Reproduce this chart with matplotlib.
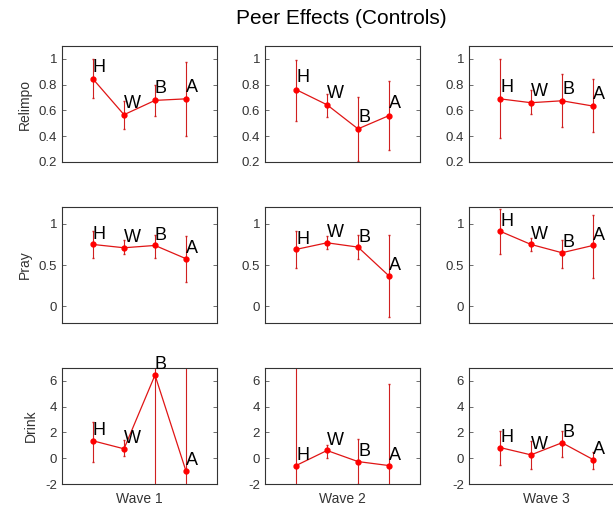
import numpy as np
import matplotlib
matplotlib.use('Agg')
import matplotlib.pyplot as plt

plt.rcParams['font.family'] = ['Liberation Sans', 'DejaVu Sans']

labels = ['H', 'W', 'B', 'A']
waves = ['Wave 1', 'Wave 2', 'Wave 3']
outcomes = ['Relimpo', 'Pray', 'Drink']

# point estimates [outcome][wave][H, W, B, A]
relimpo_mean = [[0.844, 0.567, 0.678, 0.690],
                [0.762, 0.644, 0.457, 0.560],
                [0.690, 0.660, 0.675, 0.634]]
relimpo_lo = [[0.700, 0.458, 0.560, 0.400],
              [0.520, 0.550, 0.205, 0.290],
              [0.390, 0.570, 0.475, 0.430]]
relimpo_hi = [[1.000, 0.676, 0.800, 0.975],
              [0.990, 0.730, 0.705, 0.830],
              [1.000, 0.755, 0.885, 0.845]]

pray_mean = [[0.748, 0.708, 0.736, 0.576],
             [0.688, 0.768, 0.716, 0.368],
             [0.908, 0.748, 0.648, 0.736]]
pray_lo = [[0.588, 0.628, 0.588, 0.296],
           [0.468, 0.688, 0.568, -0.132],
           [0.636, 0.668, 0.468, 0.340]]
pray_hi = [[0.908, 0.796, 0.868, 0.848],
           [0.916, 0.848, 0.868, 0.868],
           [1.180, 0.828, 0.800, 1.108]]

drink_mean = [[1.35, 0.73, 6.45, -1.00],
              [-0.57, 0.60, -0.26, -0.57],
              [0.83, 0.26, 1.20, -0.10]]
drink_lo = [[-0.26, 0.15, -2.60, -10.0],
            [-9.00, 0.03, -2.02, -6.90],
            [-0.50, -0.83, 0.13, -0.80]]
drink_hi = [[2.83, 1.38, 15.0, 8.00],
            [8.00, 1.04, 1.50, 5.74],
            [2.10, 1.37, 2.15, 0.50]]

means = [relimpo_mean, pray_mean, drink_mean]
lows = [relimpo_lo, pray_lo, drink_lo]
highs = [relimpo_hi, pray_hi, drink_hi]

ylims = [(0.2, 1.1), (-0.2, 1.2), (-2, 7)]
yticks = [[0.2, 0.4, 0.6, 0.8, 1], [0, 0.5, 1], [-2, 0, 2, 4, 6]]
yticklabels = [['0.2', '0.4', '0.6', '0.8', '1'], ['0', '0.5', '1'],
               ['-2', '0', '2', '4', '6']]
label_offset = [0.09, 0.12, 0.8]

W, H = 613, 511
col_left = [62, 265, 469]
row_top = [46, 207, 368]
ax_w, ax_h = 155, 116

fig = plt.figure(figsize=(W / 100, H / 100), dpi=100)
x = np.arange(1, 5)

for r in range(3):
    for c in range(3):
        ax = fig.add_axes([col_left[c] / W, (H - row_top[r] - ax_h) / H,
                           ax_w / W, ax_h / H])
        m = np.array(means[r][c])
        lo = np.array(lows[r][c])
        hi = np.array(highs[r][c])
        ax.errorbar(x, m, yerr=[m - lo, hi - m], color='#e01515',
                    ecolor='#d02020', lw=0.9, elinewidth=0.8, capsize=1.0,
                    marker='o', ms=3.5, mfc='red', mec='red')
        for xi, yi, t in zip(x, m, labels):
            ax.text(xi, yi + label_offset[r], t, fontsize=13, ha='left',
                    va='center', color='black')
        ax.set_xlim(0, 5)
        ax.set_ylim(*ylims[r])
        ax.set_xticks([])
        ax.set_yticks(yticks[r])
        ax.set_yticklabels(yticklabels[r], fontsize=9.5, color='#333333')
        ax.tick_params(axis='y', direction='in', length=3, right=True,
                       width=0.6, color='#555555')
        for s in ax.spines.values():
            s.set_color('#333333')
            s.set_linewidth(0.8)
        if c == 0:
            ax.set_ylabel(outcomes[r], fontsize=10, color='#333333', labelpad=5)
        if r == 2:
            ax.set_xlabel(waves[c], fontsize=10, color='#333333', labelpad=6)

fig.text(341 / W, 1 - 18 / H, 'Peer Effects (Controls)', fontsize=15,
         ha='center', va='center')

fig.savefig('out.png', dpi=100)
